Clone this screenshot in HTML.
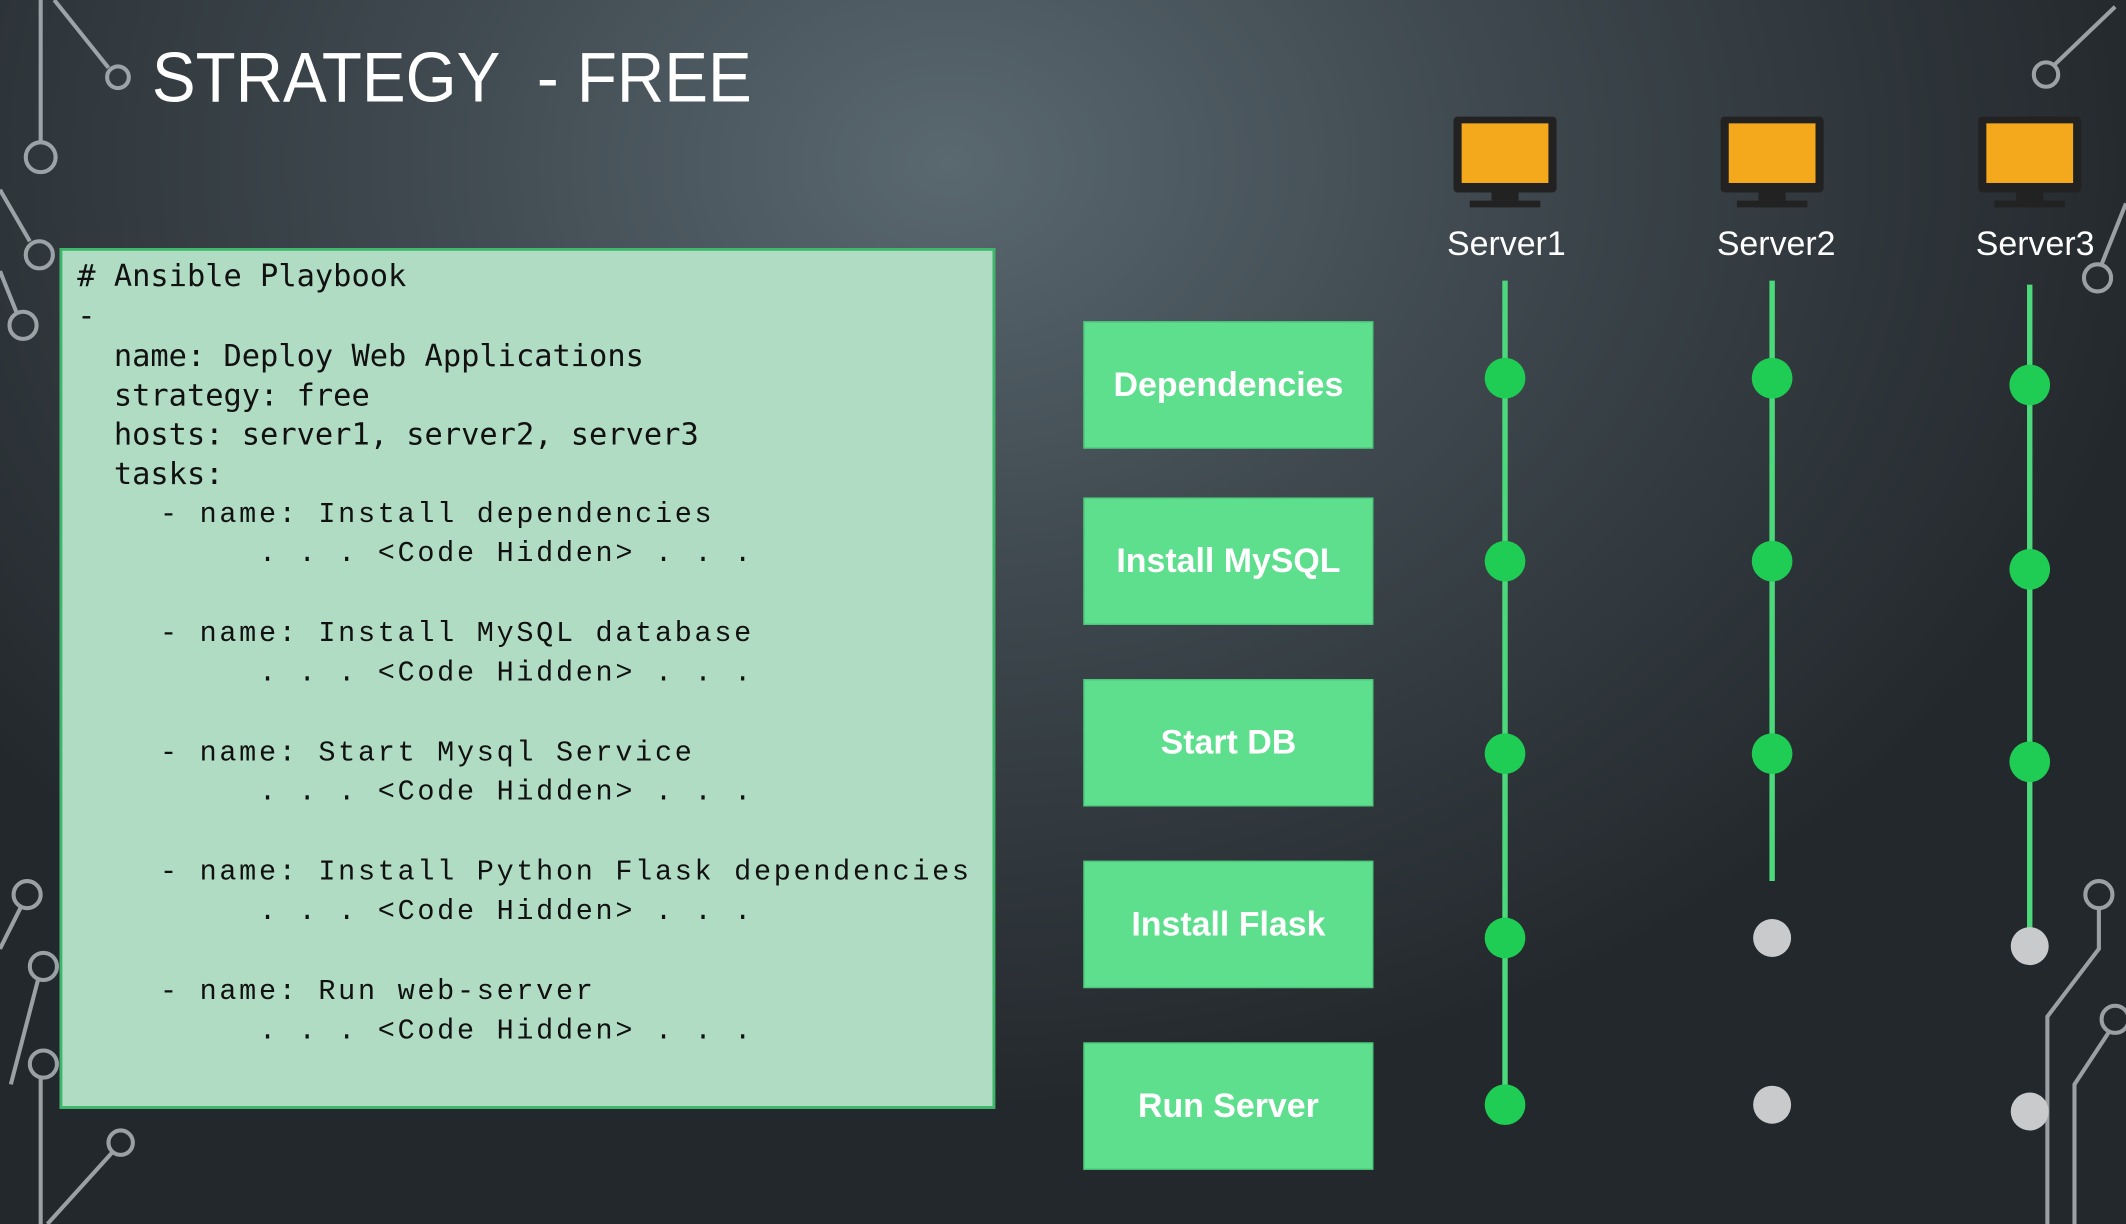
<!DOCTYPE html>
<html><head><meta charset="utf-8">
<style>
html,body{margin:0;padding:0;width:2126px;height:1224px;overflow:hidden;background:#2a3035;}
#w{position:absolute;left:0;top:0;width:1568px;height:903px;transform:scale(1.35587,1.35548);transform-origin:0 0;
background:radial-gradient(ellipse 900px 700px at 700px 120px,#5a6870 0%,#3e484e 45%,#23282c 100%);overflow:hidden;font-family:"Liberation Sans",sans-serif;}
.title{position:absolute;left:112px;top:28px;color:#fff;font-size:52px;transform:scaleX(0.93);transform-origin:0 0;white-space:nowrap;}
.code{position:absolute;left:44px;top:183px;width:686px;height:631px;background:#b1dcc4;border:2px solid #3ab86a;}
.code pre{margin:0;position:absolute;color:#111;line-height:29.3px;}
.m1{font-family:"DejaVu Sans Mono",monospace;font-size:22.4px;}
.m2{font-family:"Liberation Mono",monospace;font-size:21px;letter-spacing:2px;}
.btn{position:absolute;left:799px;width:214px;height:94px;background:#5ddf8e;color:#fff;font-size:25px;font-weight:bold;display:flex;align-items:center;justify-content:center;border:1px solid #4cc87a;box-sizing:border-box;}
.lbl{position:absolute;color:#fff;font-size:25px;width:140px;text-align:center;top:166px;}
</style></head><body><div id="w">
<svg width="1568" height="903" style="position:absolute;left:0;top:0">
<g stroke="#b8bfc3" stroke-width="3" fill="none" opacity="0.8">
<path d="M30 0 V105"/><circle cx="30" cy="116" r="11"/>
<path d="M40 0 L80 50"/><circle cx="87" cy="57" r="8"/>
<path d="M0 140 L22 178"/><circle cx="29" cy="188" r="10"/>
<path d="M0 200 L12 230"/><circle cx="17" cy="240" r="10"/>
<circle cx="20" cy="660" r="10"/><path d="M15 670 L0 700"/>
<circle cx="32" cy="713" r="10"/><path d="M28 723 L8 800"/>
<circle cx="32" cy="785" r="10"/><path d="M30 795 V903"/>
<circle cx="89" cy="843" r="9"/><path d="M83 850 L35 903"/>
<circle cx="1509" cy="55" r="9"/><path d="M1515 48 L1560 5"/>
<circle cx="1547" cy="205" r="10"/><path d="M1550 195 L1568 150"/>
<circle cx="1548" cy="660" r="10"/><path d="M1548 670 V700 L1510 750 V903"/>
<circle cx="1560" cy="752" r="10"/><path d="M1555 762 L1530 800 V903"/>
</g>
</svg>
<div class="title">STRATEGY&nbsp; - FREE</div>
<div class="code">
<pre class="m1" style="left:11px;top:5px"># Ansible Playbook
-
  name: Deploy Web Applications
  strategy: free
  hosts: server1, server2, server3
  tasks:</pre>
<pre class="m2" style="left:72px;top:181px">- name: Install dependencies
     . . . &lt;Code Hidden&gt; . . .

- name: Install MySQL database
     . . . &lt;Code Hidden&gt; . . .

- name: Start Mysql Service
     . . . &lt;Code Hidden&gt; . . .

- name: Install Python Flask dependencies
     . . . &lt;Code Hidden&gt; . . .

- name: Run web-server
     . . . &lt;Code Hidden&gt; . . .</pre>
</div>
<div class="btn" style="top:237px">Dependencies</div>
<div class="btn" style="top:367px">Install MySQL</div>
<div class="btn" style="top:501px">Start DB</div>
<div class="btn" style="top:635px">Install Flask</div>
<div class="btn" style="top:769px">Run Server</div>
<svg width="1568" height="903" style="position:absolute;left:0;top:0">
<defs><g id="mon">
<rect x="-38" y="0" width="76" height="56" rx="3" fill="#222"/>
<rect x="-32" y="5" width="64" height="44" fill="#f4a81c"/>
<rect x="-10" y="56" width="20" height="6" fill="#222"/>
<rect x="-26" y="62" width="52" height="5" fill="#222"/>
</g></defs>
<use href="#mon" x="1110" y="86"/><use href="#mon" x="1307" y="86"/><use href="#mon" x="1497" y="86"/>
<g stroke="#4cd97b" stroke-width="4">
<line x1="1110" y1="207" x2="1110" y2="815"/>
<line x1="1307" y1="207" x2="1307" y2="650"/>
<line x1="1497" y1="210" x2="1497" y2="690"/>
</g>
<g fill="#1fcc54">
<circle cx="1110" cy="279" r="15"/><circle cx="1110" cy="414" r="15"/><circle cx="1110" cy="556" r="15"/><circle cx="1110" cy="692" r="15"/><circle cx="1110" cy="815" r="15"/>
<circle cx="1307" cy="279" r="15"/><circle cx="1307" cy="414" r="15"/><circle cx="1307" cy="556" r="15"/>
<circle cx="1497" cy="284" r="15"/><circle cx="1497" cy="420" r="15"/><circle cx="1497" cy="562" r="15"/>
</g>
<g fill="#c9cacb">
<circle cx="1307" cy="692" r="14"/><circle cx="1307" cy="815" r="14"/>
<circle cx="1497" cy="698" r="14"/><circle cx="1497" cy="820" r="14"/>
</g>
</svg>
<div class="lbl" style="left:1041px">Server1</div>
<div class="lbl" style="left:1240px">Server2</div>
<div class="lbl" style="left:1431px">Server3</div>
</div></body></html>
